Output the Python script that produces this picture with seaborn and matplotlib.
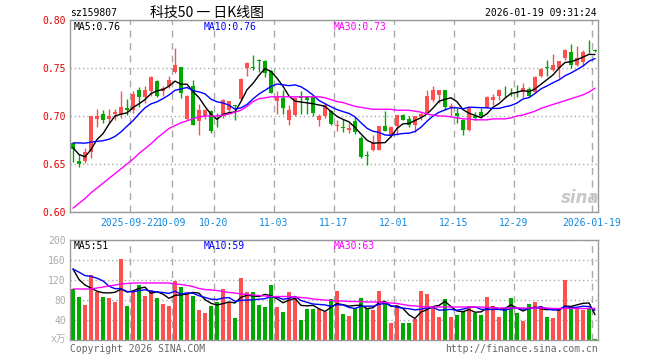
import numpy as np
import pandas as pd
import matplotlib
matplotlib.use('Agg')
from matplotlib import pyplot as plt
import seaborn as sns

sns.set_style('white')
plt.rcParams['font.family'] = ['DejaVu Sans Mono', 'Noto Sans CJK SC']

# ---- data ----
opens = [0.672, 0.6535, 0.653, 0.662, 0.697, 0.702, 0.697, 0.7025, 0.7025, 0.708,
         0.7065, 0.7268, 0.7198, 0.7264, 0.736, 0.7264, 0.731, 0.7455, 0.7514, 0.6969,
         0.7316, 0.6945, 0.700, 0.705, 0.6947, 0.6997, 0.7066, 0.7109, 0.7177, 0.750,
         0.7507, 0.758, 0.757, 0.7465, 0.716, 0.719, 0.6962, 0.7014, 0.721, 0.7198,
         0.7198, 0.6962, 0.6997, 0.7048, 0.6893, 0.6876, 0.6858, 0.6952, 0.6771, 0.6588,
         0.665, 0.665, 0.6893, 0.6806, 0.6893, 0.7014, 0.6969, 0.6906, 0.699, 0.7035,
         0.7167, 0.7222, 0.7268, 0.7094, 0.7032, 0.6962, 0.6851, 0.700, 0.7045, 0.709,
         0.717, 0.7205, 0.7258, 0.7248, 0.7258, 0.7247, 0.7285, 0.7247, 0.7413, 0.7501,
         0.7483, 0.750, 0.7604, 0.7667, 0.7535, 0.7559, 0.7716, 0.7681]
highs = [0.672, 0.660, 0.667, 0.700, 0.7073, 0.706, 0.707, 0.7073, 0.7257, 0.718,
         0.7257, 0.730, 0.731, 0.742, 0.738, 0.731, 0.742, 0.7708, 0.7514, 0.7222,
         0.738, 0.712, 0.7073, 0.7059, 0.703, 0.7177, 0.7153, 0.7118, 0.7396, 0.7558,
         0.7638, 0.759, 0.7587, 0.7483, 0.7257, 0.7267, 0.711, 0.7198, 0.726, 0.7212,
         0.7212, 0.7025, 0.7135, 0.7066, 0.6962, 0.697, 0.6927, 0.699, 0.679, 0.6632,
         0.6806, 0.6893, 0.7056, 0.6893, 0.7014, 0.7024, 0.6997, 0.7004, 0.704, 0.7275,
         0.731, 0.7275, 0.7275, 0.7135, 0.708, 0.6969, 0.7094, 0.7045, 0.708, 0.7212,
         0.7233, 0.7281, 0.7316, 0.7292, 0.7327, 0.7344, 0.7306, 0.7417, 0.750, 0.7587,
         0.765, 0.757, 0.7697, 0.775, 0.7725, 0.7684, 0.7788, 0.770]
lows = [0.652, 0.6466, 0.651, 0.656, 0.6886, 0.6927, 0.6927, 0.6962, 0.6976, 0.7014,
        0.7035, 0.7094, 0.714, 0.7212, 0.7198, 0.7205, 0.7295, 0.7448, 0.7188, 0.6962,
        0.691, 0.680, 0.6969, 0.6823, 0.689, 0.698, 0.703, 0.696, 0.717, 0.7413,
        0.7483, 0.746, 0.7406, 0.724, 0.7025, 0.7025, 0.6907, 0.7004, 0.7025, 0.7025,
        0.6997, 0.6893, 0.698, 0.6903, 0.684, 0.683, 0.6823, 0.6816, 0.6563, 0.6493,
        0.6632, 0.6643, 0.684, 0.6781, 0.6806, 0.6955, 0.6886, 0.6837, 0.6962, 0.7028,
        0.715, 0.7135, 0.7066, 0.6997, 0.6927, 0.6806, 0.6841, 0.6962, 0.6976, 0.7083,
        0.7118, 0.717, 0.7198, 0.7205, 0.7198, 0.7198, 0.7198, 0.724, 0.7406, 0.742,
        0.7466, 0.7396, 0.7587, 0.750, 0.7517, 0.7517, 0.7656, 0.767]
closes = [0.6656, 0.650, 0.6626, 0.6997, 0.6997, 0.696, 0.700, 0.7045, 0.7094, 0.7065,
          0.7233, 0.7198, 0.7268, 0.7403, 0.7212, 0.7292, 0.7379, 0.7531, 0.724, 0.7212,
          0.691, 0.7066, 0.7066, 0.684, 0.6943, 0.717, 0.7153, 0.7105, 0.7386, 0.7552,
          0.7503, 0.7575, 0.745, 0.724, 0.720, 0.7083, 0.7066, 0.7188, 0.7188, 0.7163,
          0.7031, 0.7004, 0.7118, 0.6917, 0.691, 0.6875, 0.6875, 0.683, 0.6573, 0.6587,
          0.6719, 0.6893, 0.684, 0.6885, 0.7014, 0.6962, 0.691, 0.6997, 0.7025, 0.7212,
          0.7268, 0.7268, 0.7094, 0.7108, 0.7004, 0.6858, 0.7083, 0.6976, 0.6997, 0.720,
          0.7198, 0.7275, 0.7257, 0.7247, 0.7257, 0.7292, 0.7212, 0.7403, 0.749, 0.750,
          0.7535, 0.757, 0.769, 0.7535, 0.7604, 0.7667, 0.7715, 0.768]
# closes of the 9 sessions before the window (only used for MA5 / MA10)
prior_closes = [0.650, 0.665, 0.690, 0.690, 0.690, 0.685, 0.675, 0.662, 0.647]
ma30_price = [0.604, 0.609, 0.614, 0.620, 0.625, 0.630, 0.635, 0.640, 0.645, 0.650,
              0.655, 0.661, 0.666, 0.671, 0.677, 0.682, 0.687, 0.690, 0.693, 0.695,
              0.697, 0.699, 0.700, 0.700, 0.700, 0.701, 0.702, 0.704, 0.706, 0.710,
              0.715, 0.718, 0.719, 0.720, 0.720, 0.720, 0.720, 0.720, 0.720, 0.720,
              0.720, 0.720, 0.719, 0.717, 0.715, 0.714, 0.712, 0.710, 0.709, 0.708,
              0.707, 0.707, 0.707, 0.707, 0.706, 0.706, 0.706, 0.705, 0.704, 0.702,
              0.701, 0.700, 0.700, 0.699, 0.698, 0.697, 0.697, 0.696, 0.696, 0.696,
              0.697, 0.697, 0.697, 0.698, 0.700, 0.701, 0.703, 0.705, 0.708, 0.710,
              0.712, 0.714, 0.716, 0.718, 0.720, 0.722, 0.725, 0.729]

volume = [102, 87, 70.6, 131, 97, 87, 85, 77, 163, 68.5,
          97, 111, 89, 101, 85, 73, 68.5, 119, 105.5, 94,
          89, 60.5, 55, 68.5, 77, 103, 77, 45, 125, 97,
          97, 70.6, 67, 111, 67, 57, 97, 84, 41, 62.5,
          62.5, 62.5, 57, 82.6, 99, 52, 48, 64, 85, 65,
          60.5, 99, 77, 35, 69, 35, 35, 41.7, 99, 93,
          66, 46, 82.6, 46, 50, 58, 68.5, 55, 50, 87,
          68.5, 46, 65, 85, 55, 39, 72.6, 77, 68.5, 46,
          45, 60.5, 120, 64, 62, 60.5, 64, 3]
prior_volume = [150, 140, 145, 135, 140, 192, 126, 161, 129]
ma30_volume = [102, 102, 102, 102, 104, 106, 108, 110, 112, 113,
               114, 114, 114, 114, 114, 114, 114, 112, 111, 109,
               107, 103, 101, 100, 99, 97, 95, 94, 92, 91,
               90, 89, 88, 87, 87, 87, 87, 86, 85, 84,
               82, 81, 80, 79, 78, 78, 77, 77, 77, 76,
               76, 76, 75, 74, 73, 71, 69, 68, 67, 66,
               66, 66, 66, 66, 66, 66, 66, 66, 66, 65,
               65, 64, 64, 64, 64, 64, 64, 64, 64, 64,
               63, 63, 63, 63, 63, 63, 63, 63]

date_labels = ['2025-09-22', '10-09', '10-20', '11-03', '11-17',
               '12-01', '12-15', '12-29', '2026-01-19']
date_index = [10, 17, 24, 34, 44, 54, 64, 74, 87]
price_ticks = [0.60, 0.65, 0.70, 0.75, 0.80]
vol_ticks = [40, 80, 120, 160, 200]

RED = '#ff5050'
GREEN = '#00a800'
GRID = '#aaaaaa'

n = len(closes)
idx = np.arange(n)
o, h, l, c = map(np.array, (opens, highs, lows, closes))
up = c > o
colors = np.where(up, RED, GREEN)

allc = pd.Series(prior_closes + closes)
ma5 = allc.rolling(5).mean().values[len(prior_closes):]
ma10 = allc.rolling(10).mean().values[len(prior_closes):]
allv = pd.Series(prior_volume + volume)
vma5 = allv.rolling(5).mean().values[len(prior_volume):]
vma10 = allv.rolling(10).mean().values[len(prior_volume):]

W, H = 660, 360
fig = plt.figure(figsize=(6.6, 3.6), dpi=100)
ax = fig.add_axes([70 / W, 1 - 212 / H, 528 / W, 192 / H])
axv = fig.add_axes([70 / W, 1 - 340 / H, 528 / W, 100 / H])

# candles
ax.vlines(idx, l, h, colors=colors, lw=1, zorder=2)
body = np.maximum(np.abs(c - o), 0.0006)
ax.bar(idx, body, bottom=np.minimum(o, c), width=0.8, color=colors, linewidth=0, zorder=2)
sns.lineplot(x=idx, y=ma5, color='black', lw=1, ax=ax, zorder=3)
sns.lineplot(x=idx, y=ma10, color='#0000ff', lw=1, ax=ax, zorder=3)
sns.lineplot(x=idx, y=ma30_price, color='#ff00ff', lw=1, ax=ax, zorder=3)

# volume (categorical positions 0..n-1 line up with the candle index)
vdf = pd.DataFrame({'i': idx, 'vol': volume})
sns.barplot(data=vdf, x='i', y='vol', color=GREEN, width=0.78,
            saturation=1, linewidth=0, ax=axv, zorder=2)
for bar, col in zip(axv.patches, colors):
    bar.set_facecolor(col)
sns.lineplot(x=idx, y=vma5, color='black', lw=1, ax=axv, zorder=3)
sns.lineplot(x=idx, y=vma10, color='#0000ff', lw=1, ax=axv, zorder=3)
sns.lineplot(x=idx, y=ma30_volume, color='#ff00ff', lw=1, ax=axv, zorder=3)

for a in (ax, axv):
    a.set_xlim(-0.5, n - 0.5)
    a.set_xlabel('')
    a.set_ylabel('')
    for s in a.spines.values():
        s.set_color('#999999')
        s.set_linewidth(1)
    a.set_xticks([d - 0.5 for d in date_index])
    a.tick_params(length=0)
    a.grid(axis='x', color=GRID, linestyle=(0, (5, 4)), lw=1)
    a.grid(axis='y', color=GRID, linestyle=(0, (1, 2)), lw=1)

ax.set_ylim(0.60, 0.80)
ax.set_yticks(price_ticks)
ax.set_yticklabels(['%.2f' % t for t in price_ticks], color='#e00000', fontsize=7)
ax.set_xticklabels(date_labels, color='#1188dd', fontsize=7)
ax.tick_params(axis='y', pad=3)
ax.tick_params(axis='x', pad=4)

axv.set_ylim(0, 200)
axv.set_yticks(vol_ticks)
axv.set_yticklabels([str(t) for t in vol_ticks], color='#aaaaaa', fontsize=7)
axv.set_xticklabels([])
axv.tick_params(axis='y', pad=3)


def ftext(x, y, s, **kw):
    fig.text(x / W, 1 - y / H, s, va='center', **kw)


ftext(70, 13, 'sz159807', fontsize=7, color='black')
ftext(207, 13, '科技50 一 日K线图', fontsize=10, color='black', ha='center',
      family=['Noto Sans CJK SC', 'DejaVu Sans'])
ftext(597, 13, '2026-01-19 09:31:24', fontsize=7, color='black', ha='right')

ftext(74, 27, 'MA5:%.2f' % ma5[-1], fontsize=7, color='black')
ftext(204, 27, 'MA10:%.2f' % ma10[-1], fontsize=7, color='#0000ff')
ftext(334, 27, 'MA30:%.2f' % ma30_price[-1], fontsize=7, color='#ff00ff')
ftext(74, 246, 'MA5:%d' % round(vma5[-1]), fontsize=7, color='black')
ftext(204, 246, 'MA10:%d' % round(vma10[-1]), fontsize=7, color='#0000ff')
ftext(334, 246, 'MA30:%d' % round(ma30_volume[-1]), fontsize=7, color='#ff00ff')

ftext(66, 339, 'x万', fontsize=7, color='#b0b0b0', ha='right',
      family=['DejaVu Sans Mono', 'Noto Sans CJK SC'])
ftext(70, 349, 'Copyright 2026 SINA.COM', fontsize=7, color='#666666')
ftext(598, 349, 'http://finance.sina.com.cn', fontsize=7, color='#666666', ha='right')
ftext(580, 198, 'sina', fontsize=12, color='#c8c8c8', ha='center',
      style='italic', weight='bold', family=['DejaVu Sans'])

fig.savefig('out.png', dpi=100)
